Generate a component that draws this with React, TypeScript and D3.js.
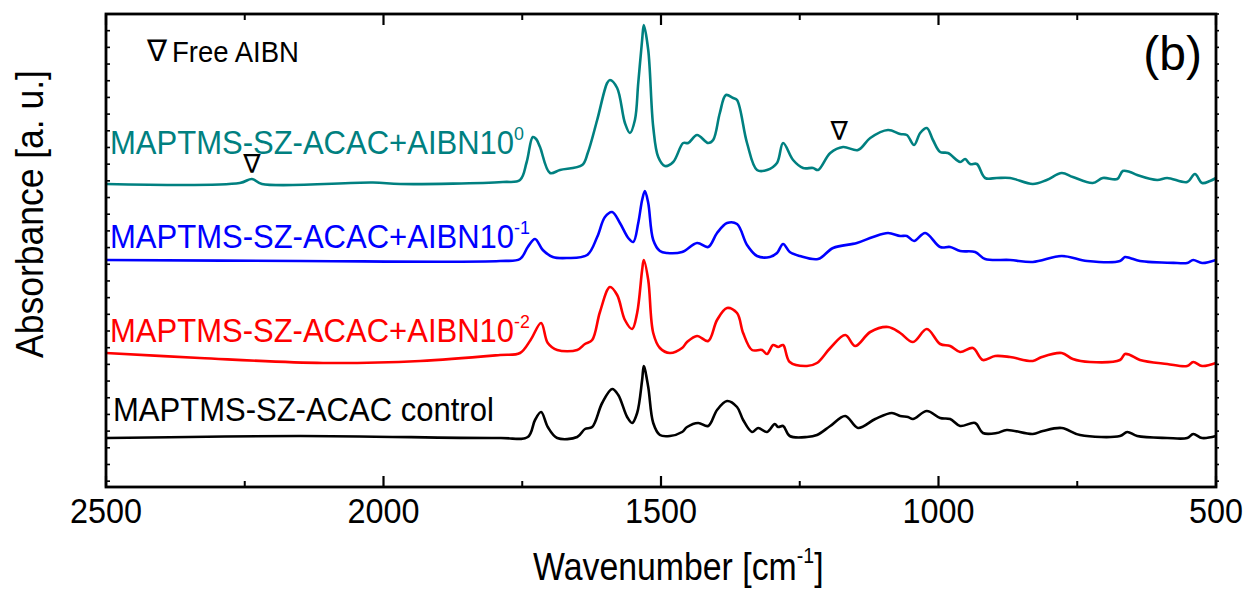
import React from "react";
import * as d3 from "d3";

// FTIR spectra, wavenumber [cm-1] vs absorbance (stacked, a. u.)
const teal: [number, number][] = [
  [2500, 3.03], [2259, 3.04], [2237, 3.08], [2219, 3.03], [2019, 3.045], [1970, 3.03], [1785, 3.05],
  [1754, 3.07], [1742, 3.25], [1731, 3.5], [1725, 3.48], [1718, 3.4], [1700, 3.14], [1682, 3.17],
  [1642, 3.22], [1632, 3.34], [1615, 3.67], [1597, 4.04], [1592, 4.07], [1579, 3.99], [1565, 3.64],
  [1556, 3.54], [1547, 3.67], [1541, 4.04], [1534, 4.47], [1531, 4.62], [1523, 4.37], [1514, 3.6],
  [1505, 3.3], [1493, 3.21], [1478, 3.25], [1460, 3.44], [1451, 3.44], [1435, 3.52], [1415, 3.44],
  [1406, 3.47], [1394, 3.74], [1383, 3.92], [1370, 3.89], [1363, 3.87], [1345, 3.44], [1327, 3.17],
  [1309, 3.17], [1291, 3.24], [1280, 3.44], [1262, 3.27], [1244, 3.19], [1226, 3.19], [1217, 3.17],
  [1195, 3.34], [1172, 3.4], [1145, 3.37], [1123, 3.49], [1091, 3.57], [1069, 3.53], [1057, 3.52],
  [1044, 3.42], [1033, 3.54], [1021, 3.59], [1010, 3.47], [997, 3.35], [983, 3.34], [961, 3.25],
  [952, 3.28], [943, 3.23], [931, 3.23], [916, 3.09], [895, 3.09], [871, 3.09], [830, 3.03],
  [805, 3.07], [778, 3.14], [758, 3.1], [722, 3.04], [704, 3.09], [678, 3.08], [668, 3.16],
  [655, 3.15], [642, 3.12], [606, 3.07], [588, 3.09], [552, 3.05], [538, 3.13], [525, 3.04],
  [511, 3.06], [500, 3.09],
];

const blue: [number, number][] = [
  [2500, 2.27], [2150, 2.26], [1790, 2.26], [1754, 2.28], [1740, 2.4], [1727, 2.48], [1713, 2.37],
  [1695, 2.3], [1669, 2.29], [1633, 2.32], [1615, 2.5], [1601, 2.7], [1588, 2.75], [1574, 2.64],
  [1559, 2.49], [1550, 2.45], [1541, 2.64], [1534, 2.87], [1529, 2.96], [1523, 2.84], [1514, 2.47],
  [1502, 2.36], [1489, 2.34], [1462, 2.35], [1435, 2.44], [1415, 2.4], [1399, 2.54], [1381, 2.64],
  [1363, 2.63], [1345, 2.42], [1327, 2.31], [1304, 2.3], [1291, 2.34], [1280, 2.43], [1268, 2.35],
  [1250, 2.31], [1217, 2.28], [1190, 2.39], [1147, 2.44], [1118, 2.5], [1091, 2.54], [1069, 2.51],
  [1057, 2.51], [1044, 2.46], [1024, 2.54], [997, 2.4], [979, 2.4], [961, 2.36], [934, 2.35],
  [916, 2.28], [871, 2.27], [830, 2.25], [778, 2.31], [732, 2.26], [673, 2.26], [664, 2.3],
  [655, 2.29], [637, 2.26], [570, 2.24], [552, 2.24], [541, 2.27], [525, 2.24], [500, 2.27],
];

const red: [number, number][] = [
  [2500, 1.34], [2331, 1.29], [2109, 1.24], [1934, 1.26], [1790, 1.32], [1754, 1.34], [1735, 1.47],
  [1716, 1.64], [1704, 1.44], [1687, 1.37], [1651, 1.37], [1637, 1.43], [1624, 1.47], [1610, 1.75],
  [1592, 2.0], [1579, 1.92], [1565, 1.67], [1552, 1.58], [1543, 1.74], [1534, 2.17], [1531, 2.27],
  [1523, 2.07], [1514, 1.54], [1502, 1.39], [1484, 1.34], [1462, 1.39], [1453, 1.45], [1435, 1.51],
  [1415, 1.46], [1399, 1.67], [1381, 1.79], [1363, 1.74], [1352, 1.54], [1336, 1.37], [1318, 1.37],
  [1309, 1.33], [1298, 1.42], [1289, 1.4], [1280, 1.42], [1268, 1.25], [1237, 1.21], [1219, 1.24],
  [1195, 1.39], [1168, 1.52], [1150, 1.41], [1123, 1.55], [1091, 1.6], [1069, 1.54], [1046, 1.45],
  [1021, 1.58], [997, 1.43], [979, 1.41], [961, 1.35], [938, 1.39], [920, 1.27], [898, 1.31],
  [871, 1.3], [830, 1.26], [814, 1.3], [778, 1.34], [758, 1.28], [727, 1.25], [673, 1.27],
  [664, 1.33], [655, 1.32], [637, 1.27], [588, 1.23], [552, 1.21], [541, 1.25], [525, 1.21],
  [500, 1.24],
];

const black: [number, number][] = [
  [2500, 0.49], [2150, 0.51], [1790, 0.49], [1740, 0.5], [1727, 0.67], [1716, 0.75], [1704, 0.6],
  [1687, 0.49], [1651, 0.5], [1637, 0.58], [1624, 0.6], [1606, 0.84], [1588, 0.98], [1577, 0.92],
  [1561, 0.7], [1552, 0.64], [1543, 0.74], [1534, 1.07], [1531, 1.21], [1523, 1.0], [1514, 0.64],
  [1502, 0.52], [1484, 0.51], [1462, 0.55], [1453, 0.6], [1433, 0.64], [1415, 0.61], [1399, 0.77],
  [1381, 0.86], [1363, 0.8], [1352, 0.67], [1336, 0.55], [1325, 0.59], [1309, 0.55], [1295, 0.63],
  [1289, 0.6], [1280, 0.61], [1268, 0.51], [1237, 0.5], [1219, 0.52], [1195, 0.61], [1168, 0.71],
  [1145, 0.59], [1114, 0.68], [1084, 0.74], [1069, 0.71], [1055, 0.7], [1046, 0.68], [1021, 0.76],
  [997, 0.69], [979, 0.68], [961, 0.61], [934, 0.64], [920, 0.54], [895, 0.54], [877, 0.57],
  [830, 0.53], [812, 0.56], [778, 0.59], [745, 0.52], [673, 0.51], [660, 0.55], [642, 0.51],
  [588, 0.49], [552, 0.49], [541, 0.53], [525, 0.49], [500, 0.51],
];

// free AIBN markers (wavenumber, level of the marker's lower tip)
const aibnMarks: [number, number][] = [[2237, 3.14], [1179, 3.47]];

const majorTicks = [2500, 2000, 1500, 1000, 500];
const minorTicks = [2250, 1750, 1250, 750];

const seriesLabels = ["MAPTMS-SZ-ACAC+AIBN10", "MAPTMS-SZ-ACAC+AIBN10", "MAPTMS-SZ-ACAC+AIBN10", "MAPTMS-SZ-ACAC control"];
const seriesSups = ["0", "-1", "-2", ""];
const seriesColors = ["#008080", "#0000ff", "#ff0000", "#000000"];
const seriesData = [teal, blue, red, black];

// label anchor (px) for each series
const labelPos = [[110, 154], [110, 248], [110, 342], [113, 421]];

const font = "Arial, 'Liberation Sans', sans-serif";
const symFont = "'DejaVu Sans', sans-serif";

export default function App() {
  const left = 106, right = 1216, top = 14, bottom = 487;
  const x = d3.scaleLinear().domain([2500, 500]).range([left, right]);
  const y = d3.scaleLinear().domain([0, 4.73]).range([bottom, top]);

  const line = d3
    .line<[number, number]>()
    .x(d => x(d[0]))
    .y(d => y(d[1]))
    .curve(d3.curveCatmullRom.alpha(0.5));

  const yMinor = d3.range(0, 29).map(k => top + k * ((bottom - top) / 28.35));

  return (
    <svg width={1251} height={590} style={{ display: "block", position: "absolute", left: 0, top: 0 }}>
      <rect width={1251} height={590} fill="#fff" />

      {seriesData.map((d, i) => (
        <path key={i} d={line(d) || ""} fill="none" stroke={seriesColors[i]} strokeWidth={2.6} strokeLinejoin="round" />
      ))}

      {/* frame */}
      <rect x={left} y={top} width={right - left} height={bottom - top} fill="none" stroke="#000" strokeWidth={2.8} />

      {/* x ticks, bottom + top, pointing in */}
      {majorTicks.map(t => (
        <g key={"M" + t}>
          <line x1={x(t)} x2={x(t)} y1={bottom} y2={bottom - 11} stroke="#000" strokeWidth={2.2} />
          <line x1={x(t)} x2={x(t)} y1={top} y2={top + 11} stroke="#000" strokeWidth={2.2} />
        </g>
      ))}
      {minorTicks.map(t => (
        <g key={"m" + t}>
          <line x1={x(t)} x2={x(t)} y1={bottom} y2={bottom - 6} stroke="#000" strokeWidth={2} />
          <line x1={x(t)} x2={x(t)} y1={top} y2={top + 6} stroke="#000" strokeWidth={2} />
        </g>
      ))}
      {/* y minor ticks */}
      {yMinor.map((v, i) => (
        <g key={"y" + i}>
          <line x1={left} x2={left + 4} y1={v} y2={v} stroke="#000" strokeWidth={1.6} />
          <line x1={right} x2={right + 3} y1={v} y2={v} stroke="#000" strokeWidth={1.6} />
        </g>
      ))}

      {/* x tick labels */}
      {majorTicks.map(t => (
        <text key={"l" + t} transform={`translate(${x(t)},523) scale(0.9,1)`} textAnchor="middle" fontFamily={font} fontSize={36}>
          {t}
        </text>
      ))}

      {/* axis titles */}
      <text transform="translate(533,580) scale(0.89,1)" fontFamily={font} fontSize={38}>
        Wavenumber [cm<tspan fontSize={22} dy={-17}>-1</tspan><tspan dy={17}>]</tspan>
      </text>
      <text transform="translate(43,214) rotate(-90) scale(0.91,1)" textAnchor="middle" fontFamily={font} fontSize={39}>
        Absorbance [a. u.]
      </text>

      {/* series labels */}
      {seriesLabels.map((s, i) => (
        <text key={"s" + i} transform={`translate(${labelPos[i][0]},${labelPos[i][1]}) scale(0.94,1)`} fontFamily={font} fontSize={33} fill={seriesColors[i]}>
          {s}
          {seriesSups[i] && <tspan fontSize={19} dy={-14}>{seriesSups[i]}</tspan>}
        </text>
      ))}

      {/* panel label and legend */}
      <text x={1202} y={70} textAnchor="end" fontFamily={font} fontSize={48}>(b)</text>
      <text x={157} y={61} textAnchor="middle" fontFamily={symFont} fontSize={30}>∇</text>
      <text transform="translate(172,62) scale(0.95,1)" fontFamily={font} fontSize={29}>Free AIBN</text>

      {aibnMarks.map((m, i) => (
        <text key={"a" + i} x={x(m[0])} y={y(m[1])} textAnchor="middle" fontFamily={symFont} fontSize={26}>∇</text>
      ))}
    </svg>
  );
}
